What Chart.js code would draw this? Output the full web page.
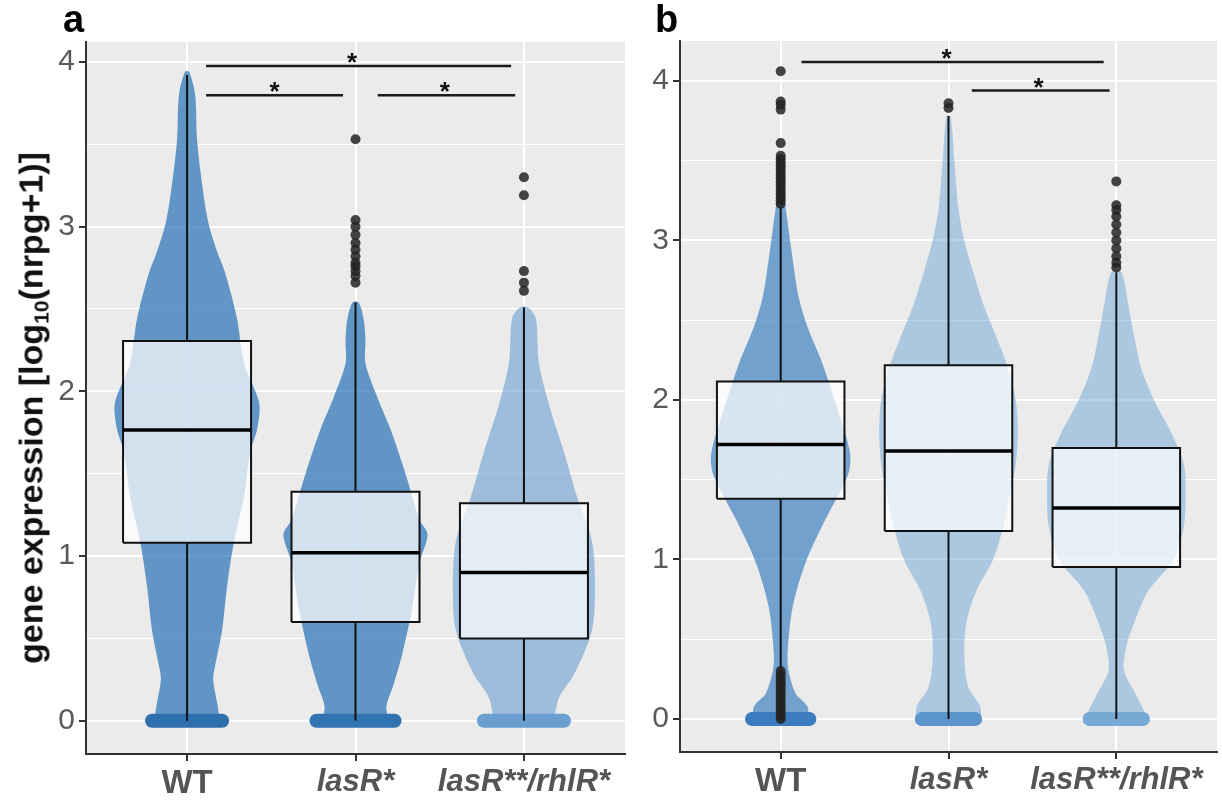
<!DOCTYPE html>
<html>
<head>
<meta charset="utf-8">
<script src="https://cdn.jsdelivr.net/npm/chart.js@4.4.1/dist/chart.umd.min.js"></script>
<style>
  body { margin: 0; background: #fff; width: 1222px; height: 800px; position: relative; overflow: hidden; font-family: "Liberation Sans", Arial, sans-serif; }
  .wrap { position: absolute; top: 0; }
  .tag { position: absolute; top: 0; font-weight: bold; font-size: 38px; line-height: 38px; color: #000; }
  #ytitle { position: absolute; left: 31px; top: 408px; transform: translate(-50%, -50%) rotate(-90deg); white-space: nowrap; font-weight: bold; font-size: 34px; color: #111; }
  #ytitle sub { font-size: 0.62em; vertical-align: -0.3em; line-height: 0; }
</style>
</head>
<body>
<div class="wrap" style="left:0"><canvas id="chartA" width="630" height="800"></canvas></div>
<div class="wrap" style="left:630px"><canvas id="chartB" width="592" height="800"></canvas></div>
<div class="tag" style="left:63px">a</div>
<div class="tag" style="left:655px">b</div>
<div id="ytitle">gene expression [log<sub>10</sub>(nrpg+1)]</div>
<script>
const FONT = '"Liberation Sans", Arial, sans-serif';

const groups = ['WT', 'lasR*', 'lasR**/rhlR*'];
const yTicks = [0, 0.5, 1, 1.5, 2, 2.5, 3, 3.5, 4];

// panel a: box stats per group
const q1A = [1.08, 0.60, 0.50];
const medA = [1.765, 1.02, 0.90];
const q3A = [2.305, 1.39, 1.32];
const whiskLoA = [0, 0, 0];
const whiskHiA = [3.92, 2.54, 2.51];
const outliersA = [
  [],
  [3.53, 3.04, 3.00, 2.95, 2.90, 2.86, 2.82, 2.78, 2.76, 2.73, 2.70, 2.66],
  [3.30, 3.19, 2.73, 2.66, 2.61]
];
// panel a: point cloud outline (value, half width in group units)
const violinYA = [
  [0, 0.11, 0.25, 0.33, 0.55, 0.82, 1.09, 1.36, 1.63, 1.77, 1.93, 2.17, 2.44, 2.72, 2.85, 3.03, 3.26, 3.53, 3.80, 3.94],
  [0, 0.09, 0.22, 0.41, 0.69, 0.96, 1.13, 1.22, 1.50, 1.77, 1.96, 2.17, 2.31, 2.44, 2.54],
  [0, 0.14, 0.28, 0.55, 0.82, 1.09, 1.36, 1.63, 1.90, 2.17, 2.44, 2.51]
];
const violinWA = [
  [0.196, 0.178, 0.155, 0.166, 0.208, 0.238, 0.279, 0.338, 0.374, 0.416, 0.428, 0.338, 0.297, 0.226, 0.178, 0.125, 0.089, 0.059, 0.048, 0.012],
  [0.196, 0.184, 0.226, 0.279, 0.338, 0.380, 0.428, 0.380, 0.297, 0.208, 0.131, 0.059, 0.059, 0.048, 0.018],
  [0.178, 0.208, 0.297, 0.404, 0.422, 0.404, 0.315, 0.238, 0.154, 0.089, 0.071, 0.024]
];
const zeroBandA = [0.208, 0.232, 0.238];
const sigX1A = [1.113, 1.113, 2.132];
const sigX2A = [2.924, 1.926, 2.948];
const sigYA = [3.975, 3.797, 3.797];
const starXA = [1.98, 1.52, 2.53];

// panel b
const q1B = [1.38, 1.178, 0.952];
const medB = [1.72, 1.68, 1.322];
const q3B = [2.115, 2.218, 1.698];
const whiskLoB = [0.31, 0, 0];
const whiskHiB = [3.21, 3.78, 2.80];
const outliersB = [
  [4.06, 3.87, 3.85, 3.82, 3.61, 3.53, 3.51, 3.49, 3.47, 3.45, 3.43, 3.41, 3.39, 3.37, 3.35, 3.33, 3.31, 3.29, 3.27, 3.25, 3.23,
   0.30, 0.28, 0.26, 0.24, 0.22, 0.20, 0.18, 0.16, 0.14, 0.12, 0.10, 0.08, 0.06, 0.04, 0.02, 0],
  [3.86, 3.83],
  [3.37, 3.22, 3.19, 3.15, 3.10, 3.05, 3.00, 2.95, 2.90, 2.86, 2.83]
];
const violinYB = [
  [0, 0.08, 0.16, 0.30, 0.41, 0.70, 0.98, 1.25, 1.53, 1.67, 1.95, 2.23, 2.46, 2.65, 2.93, 3.07, 3.20, 3.30],
  [0, 0.08, 0.20, 0.40, 0.60, 0.80, 1.00, 1.20, 1.40, 1.60, 1.80, 2.00, 2.20, 2.40, 2.60, 2.80, 3.00, 3.20, 3.50, 3.78],
  [0, 0.05, 0.15, 0.30, 0.45, 0.60, 0.80, 1.00, 1.20, 1.40, 1.60, 1.80, 2.00, 2.20, 2.40, 2.60, 2.80]
];
const violinWB = [
  [0.165, 0.159, 0.089, 0.047, 0.041, 0.071, 0.148, 0.266, 0.401, 0.413, 0.336, 0.248, 0.159, 0.106, 0.065, 0.047, 0.030, 0.012],
  [0.195, 0.189, 0.118, 0.094, 0.106, 0.165, 0.266, 0.325, 0.366, 0.401, 0.413, 0.401, 0.354, 0.283, 0.207, 0.148, 0.094, 0.059, 0.035, 0.012],
  [0.177, 0.165, 0.118, 0.047, 0.059, 0.106, 0.189, 0.342, 0.401, 0.413, 0.401, 0.325, 0.224, 0.148, 0.106, 0.071, 0.030]
];
const zeroBandB = [0.171, 0.159, 0.159];
const sigX1B = [1.124, 2.139];
const sigX2B = [2.925, 2.96];
const sigYB = [4.118, 3.939];
const starXB = [1.988, 2.537];

const BOX_HALF = 0.38;

const panelBg = {
  id: 'panelBg',
  beforeDraw(chart) {
    const { ctx, chartArea: a } = chart;
    ctx.save();
    ctx.fillStyle = '#ebebeb';
    ctx.fillRect(a.left, a.top, a.right - a.left, a.bottom - a.top);
    ctx.restore();
  }
};

const sigStars = {
  id: 'sigStars',
  afterDatasetsDraw(chart, args, opts) {
    const { ctx, scales: { x, y } } = chart;
    ctx.save();
    ctx.fillStyle = '#111';
    ctx.font = 'bold 26px ' + FONT;
    ctx.textAlign = 'center';
    opts.starX.forEach((sx, i) => {
      ctx.fillText('*', x.getPixelForValue(sx), y.getPixelForValue(opts.y[i]) + 5);
    });
    ctx.restore();
  }
};

function seg(data, color, width, order, extra) {
  return Object.assign({
    data, showLine: true, pointRadius: 0, borderColor: color, borderWidth: width,
    fill: false, order
  }, extra || {});
}

function violinPoints(c, ys, ws) {
  const right = ys.map((y, i) => ({ x: c + ws[i], y }));
  const left = ys.map((y, i) => ({ x: c - ws[i], y })).reverse();
  return right.concat(left);
}

function makePanel(id, p) {
  const datasets = [];
  groups.forEach((g, i) => {
    const c = i + 1;
    datasets.push(seg(violinPoints(c, p.violinY[i], p.violinW[i]), 'rgba(0,0,0,0)', 0, 7,
      { fill: 'shape', backgroundColor: p.cloudColors[i], tension: 0.3 }));
    datasets.push(seg([{ x: c - p.band[i], y: 0 }, { x: c + p.band[i], y: 0 }], p.bandColors[i], 14, 6,
      { borderCapStyle: 'round' }));
    datasets.push(seg([{ x: c, y: p.lo[i] }, { x: c, y: p.q1[i] }], '#111', 2, 5));
    datasets.push(seg([{ x: c, y: p.q3[i] }, { x: c, y: p.hi[i] }], '#111', 2, 5));
    datasets.push(seg([
      { x: c - BOX_HALF, y: p.q1[i] }, { x: c + BOX_HALF, y: p.q1[i] },
      { x: c + BOX_HALF, y: p.q3[i] }, { x: c - BOX_HALF, y: p.q3[i] },
      { x: c - BOX_HALF, y: p.q1[i] }
    ], '#111', 2, 4, { fill: 'shape', backgroundColor: 'rgba(255,255,255,0.72)' }));
    datasets.push(seg([{ x: c - BOX_HALF, y: p.med[i] }, { x: c + BOX_HALF, y: p.med[i] }], '#000', 3.5, 3));
    datasets.push({
      data: p.outliers[i].map(v => ({ x: c, y: v })),
      pointRadius: 5, pointBackgroundColor: 'rgba(35,35,35,0.85)', pointBorderWidth: 0, order: 2
    });
  });
  p.sigX1.forEach((x1, i) => {
    datasets.push(seg([{ x: x1, y: p.sigY[i] }, { x: p.sigX2[i], y: p.sigY[i] }], '#1a1a1a', 2.5, 1));
  });

  return new Chart(document.getElementById(id), {
    type: 'scatter',
    data: { datasets },
    options: {
      responsive: false,
      animation: false,
      layout: { padding: { top: p.padTop, right: p.padRight, left: 0, bottom: 0 } },
      plugins: {
        legend: { display: false },
        tooltip: { enabled: false },
        sigStars: { starX: p.starX, y: p.sigY }
      },
      scales: {
        x: {
          type: 'linear', min: 0.4, max: 3.6,
          afterBuildTicks: s => { s.ticks = [1, 2, 3].map(v => ({ value: v })); },
          afterFit: s => { s.height = p.xH; },
          grid: { color: '#fff', lineWidth: 2, tickLength: 7, tickColor: '#333', tickWidth: 2 },
          border: { display: true, color: '#333', width: 2 },
          ticks: {
            autoSkip: false, maxRotation: 0, padding: 3, color: '#555',
            callback: v => groups[v - 1],
            font: c => ({ family: FONT, size: c.index === 0 ? 33 : 31, weight: 'bold', style: c.index === 0 ? 'normal' : 'italic' })
          }
        },
        y: {
          min: p.yMin, max: p.yMax,
          afterBuildTicks: s => { s.ticks = yTicks.map(v => ({ value: v })); },
          afterFit: s => { s.width = p.yW; },
          grid: {
            color: '#fff',
            lineWidth: c => (c.tick && Number.isInteger(c.tick.value)) ? 2 : 1,
            tickColor: c => (c.tick && Number.isInteger(c.tick.value)) ? '#333' : 'rgba(0,0,0,0)',
            tickLength: 7, tickWidth: 2
          },
          border: { display: true, color: '#333', width: 2 },
          ticks: {
            padding: 4, color: '#5a5a5a',
            callback: v => Number.isInteger(v) ? v : '',
            font: { family: FONT, size: 30 }
          }
        }
      }
    },
    plugins: [panelBg, sigStars]
  });
}

makePanel('chartA', {
  q1: q1A, med: medA, q3: q3A, lo: whiskLoA, hi: whiskHiA, outliers: outliersA,
  violinY: violinYA, violinW: violinWA, band: zeroBandA,
  sigX1: sigX1A, sigX2: sigX2A, sigY: sigYA, starX: starXA,
  cloudColors: ['rgba(50,120,186,0.75)', 'rgba(50,120,186,0.75)', 'rgba(95,152,205,0.55)'],
  bandColors: ['#2f6fae', '#3274b2', '#6b9fcf'],
  yMin: -0.202, yMax: 4.121, yW: 86, xH: 46, padTop: 42, padRight: 5
});

makePanel('chartB', {
  q1: q1B, med: medB, q3: q3B, lo: whiskLoB, hi: whiskHiB, outliers: outliersB,
  violinY: violinYB, violinW: violinWB, band: zeroBandB,
  sigX1: sigX1B, sigX2: sigX2B, sigY: sigYB, starX: starXB,
  cloudColors: ['rgba(62,130,192,0.7)', 'rgba(110,165,214,0.5)', 'rgba(110,165,214,0.5)'],
  bandColors: ['#3a7cbd', '#5b95cb', '#78a8d4'],
  yMin: -0.207, yMax: 4.25, yW: 50, xH: 48, padTop: 41, padRight: 0
});
</script>
</body>
</html>
